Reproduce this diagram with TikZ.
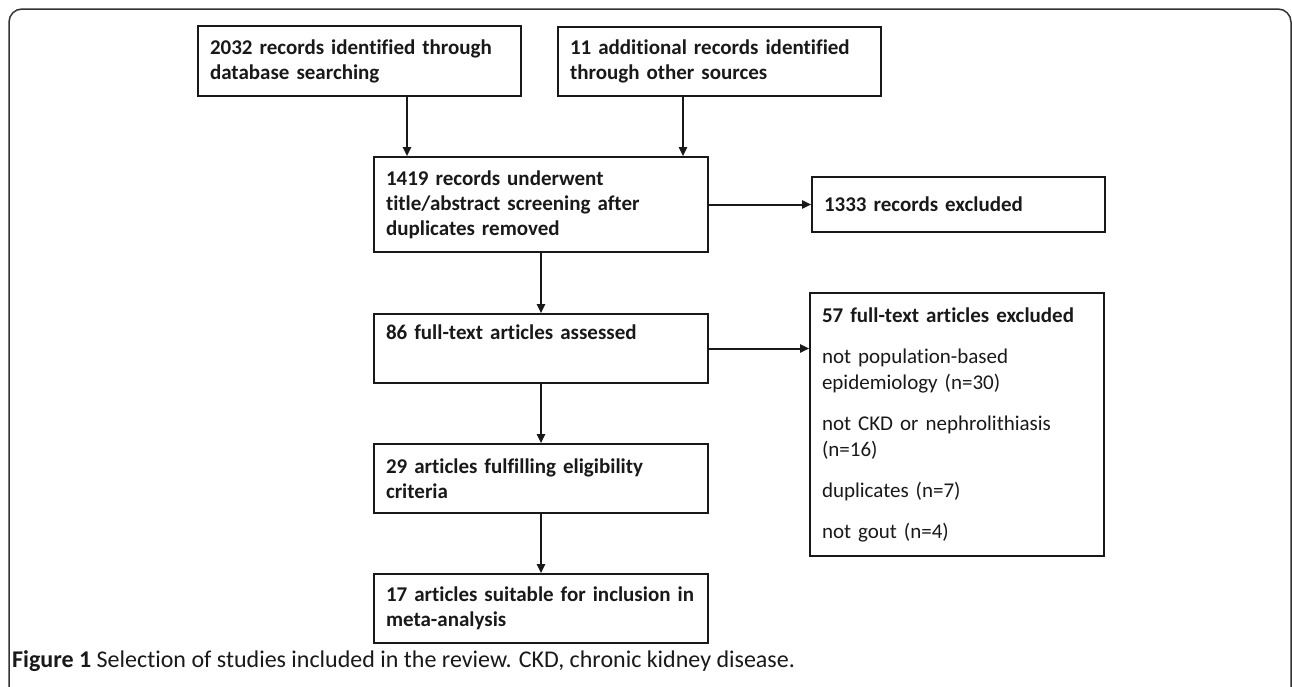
\documentclass[tikz,border=0pt]{standalone}
\usepackage{fontspec}
\setmainfont{Carlito}[Ligatures=NoCommon]
\usetikzlibrary{arrows.meta}
\begin{document}
\begin{tikzpicture}[x=1pt,y=-1pt,
  boxstyle/.style={draw=black!90, line width=1.6pt, inner xsep=12pt, inner ysep=0pt,
    align=left, font=\fontsize{21}{25}\selectfont\bfseries, text=black!90},
  arr/.style={-{Triangle[length=9pt,width=8pt]}, line width=2pt, draw=black!90}]
\useasboundingbox (0,0) rectangle (1292,686);
\begin{scope}
\clip (0,0) rectangle (1292,686);
\draw[line width=1.5pt, draw=black!80, rounded corners=13pt] (9,9) rectangle (1291,720);
\end{scope}
% boxes
\node[boxstyle, minimum width=323pt, minimum height=70pt, text width=299pt] (b1) at (359.5,61)
  {2032 records identified through\\database searching};
\node[boxstyle, minimum width=323pt, minimum height=69pt, text width=299pt] (b2) at (719.5,61.5)
  {11 additional records identified\\through other sources};
\node[boxstyle, minimum width=334pt, minimum height=95pt, text width=310pt] (b3) at (541,204.5)
  {1419 records underwent\\title/abstract screening after\\duplicates removed};
\node[boxstyle, minimum width=293pt, minimum height=55pt, text width=269pt] (b4) at (958.5,204.5)
  {1333 records excluded};
\node[boxstyle, minimum width=334pt, minimum height=69pt, text width=310pt] (b5) at (541,348.5)
  {86 full-text articles assessed\\\strut};
\node[boxstyle, minimum width=294pt, minimum height=263pt, text width=270pt, font=\fontsize{21}{26}\selectfont] (b6) at (957,424.5)
  {\textbf{57 full-text articles excluded}\\[15pt]not population-based\\epidemiology (n=30)\\[15pt]not CKD or nephrolithiasis\\(n=16)\\[15pt]duplicates (n=7)\\[15pt]not gout (n=4)};
\node[boxstyle, minimum width=334pt, minimum height=69pt, text width=310pt] (b7) at (541,478.5)
  {29 articles fulfilling eligibility\\criteria};
\node[boxstyle, minimum width=334pt, minimum height=69pt, text width=310pt] (b8) at (541,608.5)
  {17 articles suitable for inclusion in\\meta-analysis};
% arrows
\coordinate (c1) at (407,0);
\coordinate (c2) at (683,0);
\draw[arr] (c1 |- b1.south) -- (c1 |- b3.north);
\draw[arr] (c2 |- b2.south) -- (c2 |- b3.north);
\draw[arr] (b3.east) -- (b3.east -| b4.west);
\draw[arr] (b3.south) -- (b5.north);
\draw[arr] (b5.east) -- (b5.east -| b6.west);
\draw[arr] (b5.south) -- (b7.north);
\draw[arr] (b7.south) -- (b8.north);
% caption
\node[anchor=base west, inner sep=0pt, font=\fontsize{24}{28}\selectfont, text=black!90] (cap) at (12,667)
  {\textbf{Figure 1} Selection of studies included in the review. CKD, chronic kidney disease.};
\end{tikzpicture}
\end{document}
